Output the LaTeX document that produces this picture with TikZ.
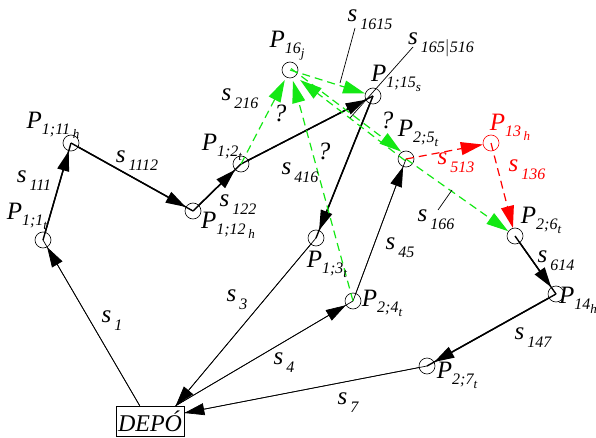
\documentclass[tikz,border=0pt]{standalone}
\usepackage{fontspec}
\setmainfont{Liberation Serif}
\usetikzlibrary{arrows.meta,calc}
\definecolor{grn}{RGB}{20,232,20}
\newcommand{\SL}[1]{{\fontsize{25}{25}\selectfont\itshape s\hspace{3pt}\raisebox{-8pt}{\fontsize{16}{16}\selectfont #1}}}
\newcommand{\PL}[2]{{\fontsize{25}{25}\selectfont\itshape P\raisebox{-6pt}{\fontsize{16}{16}\selectfont #1\raisebox{-4pt}{\fontsize{13}{13}\selectfont #2}}}}
\begin{document}
\begin{tikzpicture}[x=1pt,y=-1pt,
  pnt/.style={circle,draw,line width=0.6pt,minimum size=16pt,inner sep=0pt},
  thinl/.style={line width=0.7pt},
  thickl/.style={line width=1.4pt},
  barr/.style={-{Triangle[length=20pt,width=12pt]}},
  garr/.style={-{Triangle[length=22pt,width=13pt]}},
  gl/.style={draw=grn,line width=1.2pt,dash pattern=on 8pt off 5pt},
  rl/.style={draw=red,line width=1.2pt,dash pattern=on 8pt off 5pt},
  lbl/.style={inner sep=0pt,anchor=center},
  qm/.style={inner sep=0pt,anchor=center,font=\fontsize{25}{25}\selectfont\itshape}]
\useasboundingbox (0,0) rectangle (596,438);
% nodes
\node[draw,line width=0.6pt,minimum width=68pt,minimum height=30pt,inner sep=0pt,font=\fontsize{24}{24}\selectfont\itshape] (depo) at (150,421) {DEPÓ};
\node[pnt] (p11t) at (43,240) {};
\node[pnt] (p11h) at (71,143) {};
\node[pnt] (p12h) at (193,211) {};
\node[pnt] (p12t) at (241,164) {};
\node[pnt] (p16j) at (290,70) {};
\node[pnt] (p115s) at (373,96) {};
\node[pnt] (p25t) at (406,159) {};
\node[pnt,draw=red] (p13h) at (491,143) {};
\node[pnt] (p26t) at (515,236) {};
\node[pnt] (p14h) at (556,294) {};
\node[pnt] (p27t) at (427,366) {};
\node[pnt] (p24t) at (353,301) {};
\node[pnt] (p13t) at (316,238) {};
\coordinate (dtop) at ([xshift=24pt]depo.north west);
\coordinate (dtr) at ([xshift=60pt]depo.north west);
\coordinate (drt) at ([yshift=8pt]depo.east);
% black solid connectors (line to centre, arrow to border)
\draw[thinl] (dtop) -- (p11t.center);
\draw[thinl,barr] (dtop) -- (p11t);
\draw[thickl] (p11t.center) -- (p11h.center);
\draw[thickl,barr] (p11t) -- (p11h);
\draw[thickl] (p11h.center) -- (p12h.center);
\draw[thickl,barr] (p11h) -- (p12h);
\draw[thickl] (p12h.center) -- (p12t.center);
\draw[thickl,barr] (p12h) -- (p12t);
\draw[thickl] (p12t.center) -- (p115s.center);
\draw[thickl,barr] (p12t) -- (p115s);
\draw[thickl] (p115s.center) -- (p13t.center);
\draw[thickl,barr] (p115s) -- (p13t);
\draw[thinl] (p13t.center) -- (dtr);
\draw[thinl,barr] (p13t) -- (dtr);
\draw[thinl] (dtr) -- (p24t.center);
\draw[thinl,barr] (dtr) -- (p24t);
\draw[thinl] (p24t.center) -- (p25t.center);
\draw[thinl,barr] (p24t) -- (p25t);
\draw[thickl] (p26t.center) -- (p14h.center);
\draw[thickl,barr] (p26t) -- (p14h);
\draw[thickl] (p14h.center) -- (p27t.center);
\draw[thickl,barr] (p14h) -- (p27t);
\draw[thinl] (p27t.center) -- (drt);
\draw[thinl,barr] (p27t) -- (drt);
% green dashed
\draw[gl,garr,shorten >=3pt] (p12t.center) -- (p16j);
\draw[gl,garr,shorten >=3pt] (p24t.center) -- (p16j);
\draw[gl,garr] (p16j.center) -- (p115s);
\draw[gl,garr] ([xshift=1pt,yshift=1.5pt]p16j.center) -- ([xshift=1pt,yshift=1.5pt]p25t.north west);
\draw[gl,garr,shorten >=14pt] ([xshift=-1pt,yshift=-1.5pt]p25t.center) -- ([xshift=-1pt,yshift=-1.5pt]p16j.center);
\draw[gl,garr] (p25t.center) -- (p26t);
% red dashed
\draw[rl,garr] (p25t.center) -- (p13h);
\draw[rl,garr] (p13h.center) -- (p26t);
% leader lines
\coordinate (l1a) at (355,28); \coordinate (l1b) at (340,83);
\coordinate (l2a) at (413,47); \coordinate (l2b) at (350,118);
\coordinate (l3a) at (452,190); \coordinate (l3b) at (438,210);
\draw[thinl] (l1a) -- (l1b);
\draw[thinl] (l2a) -- (l2b);
\draw[thinl] (l3a) -- (l3b);
% labels
\node[lbl] at (53,125) {\PL{1;11\,}{h}};
\node[lbl] at (27,216) {\PL{1;1}{t}};
\node[lbl] at (34,181) {\SL{111}};
\node[lbl] at (137,161) {\SL{1112}};
\node[lbl] at (228,225) {\PL{1;12\,}{h}};
\node[lbl] at (238,205) {\SL{122}};
\node[lbl] at (222,147) {\PL{1;2}{t}};
\node[lbl] at (240,99) {\SL{216}};
\node[lbl] at (287,46) {\PL{16}{j}};
\node[lbl] at (370,20) {\SL{1615}};
\node[lbl] at (441,45) {\SL{165$|$516}};
\node[lbl] at (396,78) {\PL{1;15}{s}};
\node[lbl] at (300,173) {\SL{416}};
\node[lbl] at (327,264) {\PL{1;3}{t}};
\node[lbl] at (237,300) {\SL{3}};
\node[lbl] at (284,363) {\SL{4}};
\node[lbl] at (112,321) {\SL{1}};
\node[lbl] at (348,403) {\SL{7}};
\node[lbl] at (457,375) {\PL{2;7}{t}};
\node[lbl] at (533,338) {\SL{147}};
\node[lbl] at (578,300) {\PL{14}{h}};
\node[lbl] at (556,261) {\SL{614}};
\node[lbl] at (541,220) {\PL{2;6}{t}};
\node[lbl] at (436,220) {\SL{166}};
\node[lbl] at (400,248) {\SL{45}};
\node[lbl] at (382,303) {\PL{2;4}{t}};
\node[lbl] at (418,133) {\PL{2;5}{t}};
\node[lbl,text=red] at (510,127) {\PL{13\,}{h}};
\node[lbl,text=red] at (456,163) {\SL{513}};
\node[lbl,text=red] at (527,170) {\SL{136}};
\node[qm] at (280,113) {?};
\node[qm] at (324,151) {?};
\node[qm] at (387,120) {?};
\end{tikzpicture}
\end{document}
